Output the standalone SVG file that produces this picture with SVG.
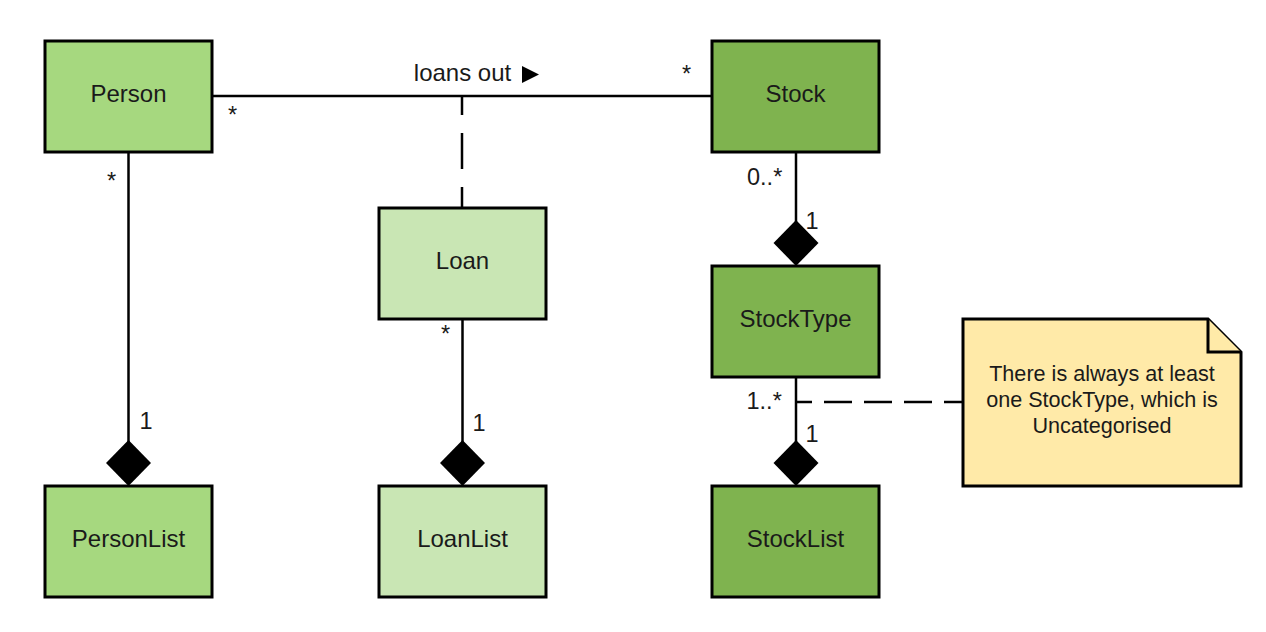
<svg xmlns="http://www.w3.org/2000/svg" width="1266" height="632" viewBox="0 0 1266 632">
  <style>
    .node { stroke: #000; stroke-width: 3; }
    .p { fill: #a6d87f; }
    .s { fill: #7fb34f; }
    .l { fill: #c9e6b4; }
    .note { fill: #ffeaa8; stroke: #000; stroke-width: 3; stroke-linejoin: miter; }
    .lbl { font-family: "Liberation Sans", Arial, sans-serif; font-size: 24px; fill: #1a1a1a; text-anchor: middle; }
    .el { font-family: "Liberation Sans", Arial, sans-serif; font-size: 23.5px; fill: #1a1a1a; }
    .nt { font-family: "Liberation Sans", Arial, sans-serif; font-size: 21.6px; fill: #1a1a1a; text-anchor: middle; }
    .ln { stroke: #000; stroke-width: 2.5; fill: none; }
    .dia { fill: #000; stroke: none; }
  </style>
  <rect width="1266" height="632" fill="#ffffff"/>
  <g id="connectors">
    <line class="ln" x1="212" y1="96" x2="712" y2="96"/>
    <line class="ln" x1="462" y1="96" x2="462" y2="208" stroke-width="3" stroke-dasharray="36 18" stroke-dashoffset="17"/>
    <line class="ln" x1="128.5" y1="152" x2="128.5" y2="442"/>
    <polygon class="dia" points="128.5,440 151,463 128.5,486 106,463"/>
    <line class="ln" x1="462.5" y1="319" x2="462.5" y2="442"/>
    <polygon class="dia" points="462.5,440 485,463 462.5,486 440,463"/>
    <line class="ln" x1="796" y1="152" x2="796" y2="222"/>
    <polygon class="dia" points="796,220 818.5,243 796,266 773.5,243"/>
    <line class="ln" x1="796" y1="377" x2="796" y2="442"/>
    <polygon class="dia" points="796,440 818.5,463 796,486 773.5,463"/>
    <line class="ln" x1="796" y1="402" x2="963" y2="402" stroke-dasharray="28 12" stroke-dashoffset="12"/>
    <text class="lbl" x="462.5" y="81">loans out</text>
    <polygon points="522,66 539,74.5 522,83" fill="#000"/>
    <text class="el" x="228" y="123">*</text>
    <text class="el" x="682" y="82">*</text>
    <text class="el" x="107" y="189">*</text>
    <text class="el" x="139.5" y="429">1</text>
    <text class="el" x="747" y="185">0..*</text>
    <text class="el" x="805.5" y="229">1</text>
    <text class="el" x="441" y="342">*</text>
    <text class="el" x="472.5" y="431">1</text>
    <text class="el" x="746.5" y="409">1..*</text>
    <text class="el" x="805.5" y="442">1</text>
  </g>
  <g id="person">
    <rect class="node p" x="45" y="41" width="167" height="111"/>
    <text class="lbl" x="128.5" y="102">Person</text>
  </g>
  <g id="stock">
    <rect class="node s" x="712" y="41" width="167" height="111"/>
    <text class="lbl" x="795.5" y="102">Stock</text>
  </g>
  <g id="loan">
    <rect class="node l" x="379" y="208" width="167" height="111"/>
    <text class="lbl" x="462.5" y="269">Loan</text>
  </g>
  <g id="stocktype">
    <rect class="node s" x="712" y="266" width="167" height="111"/>
    <text class="lbl" x="795.5" y="327">StockType</text>
  </g>
  <g id="personlist">
    <rect class="node p" x="45" y="486" width="167" height="111"/>
    <text class="lbl" x="128.5" y="547">PersonList</text>
  </g>
  <g id="loanlist">
    <rect class="node l" x="379" y="486" width="167" height="111"/>
    <text class="lbl" x="462.5" y="547">LoanList</text>
  </g>
  <g id="stocklist">
    <rect class="node s" x="712" y="486" width="167" height="111"/>
    <text class="lbl" x="795.5" y="547">StockList</text>
  </g>
  <g id="note">
    <path class="note" d="M963,319 L1208,319 L1241,352 L1241,486 L963,486 Z"/>
    <path class="note" d="M1208,319 L1208,352 L1241,352" fill="none"/>
    <text class="nt" x="1102" y="381">There is always at least</text>
    <text class="nt" x="1102" y="407">one StockType, which is</text>
    <text class="nt" x="1102" y="433">Uncategorised</text>
  </g>
</svg>
